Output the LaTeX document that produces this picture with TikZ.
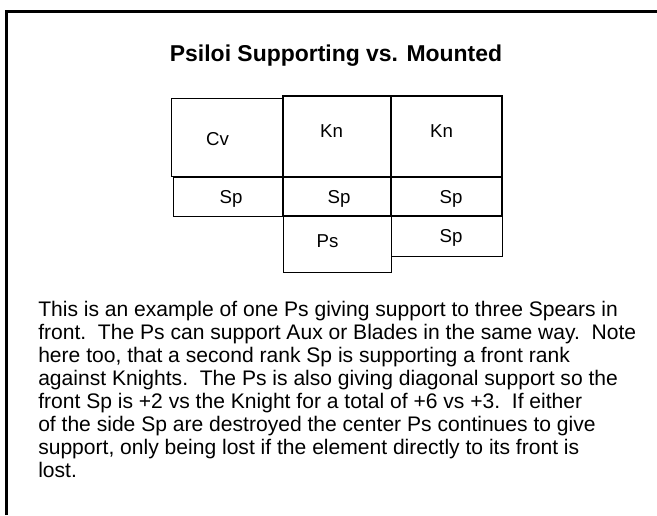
\documentclass[tikz,border=0pt]{standalone}
\usepackage{fontspec}
\setmainfont{Liberation Sans}
\begin{document}
\begin{tikzpicture}[
    x=0.75pt, y=-0.75pt,
    frame/.style={draw, line width=2.25pt},
    elem/.style 2 args={rectangle, draw, line width=0.75pt, inner sep=0pt,
        minimum width=#1*0.75pt, minimum height=#2*0.75pt},
    heavy/.style={line width=1.5pt},
    tag/.style={anchor=base, inner sep=0pt, font=\fontsize{14}{16}\selectfont},
    title/.style={anchor=base, inner sep=0pt, font=\fontsize{17.2}{19}\selectfont\bfseries},
    note/.style={anchor=north west, inner sep=0pt, align=left,
        font=\fontsize{15.8}{17.25}\selectfont}
]
    \useasboundingbox (0,0) rectangle (657,515);
    \draw[frame] (6.5,515) |- (657,11.5);

    \node[title] (head) at (336,61) {Psiloi Supporting vs. Mounted};

    % front rank
    \node[elem={111}{78}] (cv) at (226.5,137) {};
    \node[elem={109}{39}] (spa) at (227.5,196.5) {};
    \node[elem={108}{56}] (ps) at (337,244) {};
    \node[elem={111}{40}] (spd) at (446.5,236) {};
    \node[elem={108}{81}, heavy] (kna) at (337,136.5) {};
    \node[elem={111}{81}, heavy] (knb) at (446.5,136.5) {};
    \node[elem={108}{39}, heavy] (spb) at (337,196.5) {};
    \node[elem={111}{39}, heavy] (spc) at (446.5,196.5) {};

    \node[tag] (cvt) at (217.5,145) {Cv};
    \node[tag] (knat) at (331.5,137) {Kn};
    \node[tag] (knbt) at (441.5,137) {Kn};
    \node[tag] (spat) at (231,203) {Sp};
    \node[tag] (spbt) at (339,203) {Sp};
    \node[tag] (spct) at (451,203) {Sp};
    \node[tag] (pst) at (327.5,247) {Ps};
    \node[tag] (spdt) at (451,242) {Sp};

    \node[note] (text) at (38,300.5) {This is an example of one Ps giving support to three Spears in\\
        front.\ \ The Ps can support Aux or Blades in the same way.\ \ Note\\
        here too, that a second rank Sp is supporting a front rank\\
        against Knights.\ \ The Ps is also giving diagonal support so the\\
        front Sp is +2 vs the Knight for a total of +6 vs +3.\ \ If either\\
        of the side Sp are destroyed the center Ps continues to give\\
        support, only being lost if the element directly to its front is\\
        lost.};
\end{tikzpicture}
\end{document}
